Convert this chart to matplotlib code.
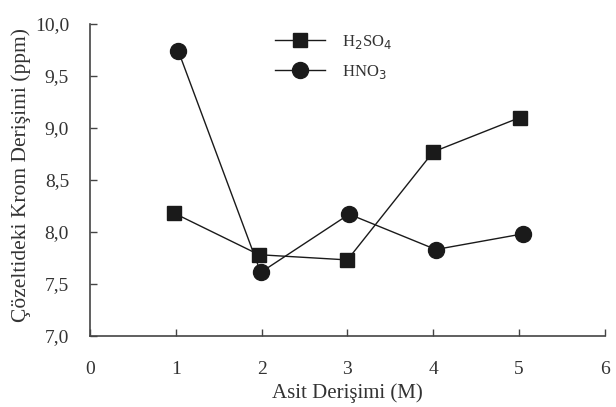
import matplotlib
matplotlib.use("Agg")
import matplotlib.pyplot as plt
from matplotlib.ticker import FuncFormatter

x_h2so4 = [0.98, 1.97, 3.0, 4.0, 5.01]
y_h2so4 = [8.18, 7.78, 7.73, 8.77, 9.10]
x_hno3 = [1.03, 1.99, 3.02, 4.03, 5.04]
y_hno3 = [9.74, 7.61, 8.17, 7.83, 7.98]
x_ticks = [0, 1, 2, 3, 4, 5, 6]
y_ticks = [7.0, 7.5, 8.0, 8.5, 9.0, 9.5, 10.0]

plt.rcParams['font.family'] = ['Liberation Serif', 'DejaVu Serif']
fig = plt.figure(figsize=(6.16, 4.07), dpi=100)
ax = fig.add_axes([0.146, 0.175, 0.836, 0.766])

ax.plot(x_h2so4, y_h2so4, color='#1a1a1a', lw=1.0, marker='s', ms=10,
        label='H$_2$SO$_4$')
ax.plot(x_hno3, y_hno3, color='#1a1a1a', lw=1.0, marker='o', ms=11.5,
        label='HNO$_3$')

ax.set_xlim(0, 6)
ax.set_ylim(7.0, 10.0)
ax.set_xticks(x_ticks)
ax.set_yticks(y_ticks)
ax.yaxis.set_major_formatter(FuncFormatter(lambda v, p: f"{v:.1f}".replace('.', ',')))
for s in ['top', 'right']:
    ax.spines[s].set_visible(False)
for s in ['left', 'bottom']:
    ax.spines[s].set_color('#444444')
    ax.spines[s].set_linewidth(1.2)
ax.tick_params(axis='both', direction='in', length=5, width=1, color='#444444',
               labelsize=14, labelcolor='#333333')
ax.tick_params(axis='y', pad=15)
ax.tick_params(axis='x', pad=18)

ax.set_xlabel('Asit Derişimi (M)', fontsize=15, color='#333333', labelpad=4)
ax.set_ylabel('Çözeltideki Krom Derişimi (ppm)', fontsize=15.5, color='#333333')
ax.yaxis.set_label_coords(-0.115, 0.515)

leg = ax.legend(loc='upper left', bbox_to_anchor=(0.33, 1.02), frameon=False,
                fontsize=12, handlelength=3.0, labelspacing=0.75, handletextpad=1.0)
for t in leg.get_texts():
    t.set_color('#333333')

fig.savefig('out.png', dpi=100)
